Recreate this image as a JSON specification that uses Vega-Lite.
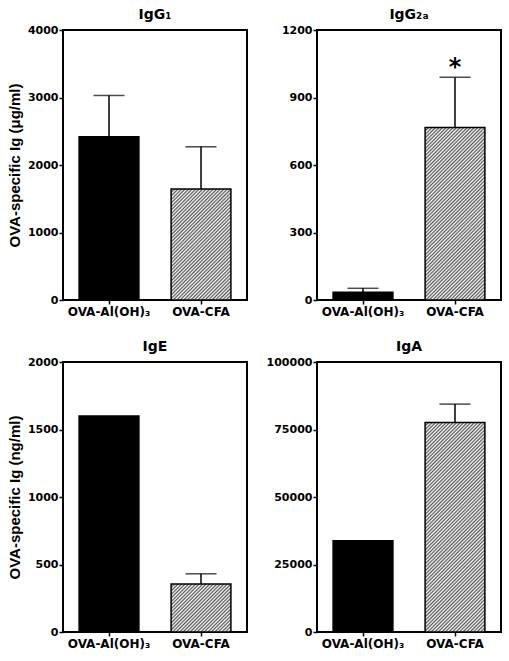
{
"$schema":"https://vega.github.io/schema/vega-lite/v6.json",
"padding":{"left":6,"top":7,"right":0,"bottom":0},
"background":"white",
"data":{"values":[
{"panel":"IgG1","group":"OVA-Al(OH)₃","mean":2420,"upper":3030},
{"panel":"IgG1","group":"OVA-CFA","mean":1645,"upper":2270},
{"panel":"IgG2a","group":"OVA-Al(OH)₃","mean":34,"upper":52},
{"panel":"IgG2a","group":"OVA-CFA","mean":767,"upper":990,"sig":"*"},
{"panel":"IgE","group":"OVA-Al(OH)₃","mean":1600,"upper":null},
{"panel":"IgE","group":"OVA-CFA","mean":356,"upper":431},
{"panel":"IgA","group":"OVA-Al(OH)₃","mean":33800,"upper":null},
{"panel":"IgA","group":"OVA-CFA","mean":77600,"upper":84400}
]},
"columns":2,
"bounds":"flush",
"spacing":{"row":62,"column":70},
"concat":[
{
"width":184,"height":270,
"title":"IgG₁",
"transform":[{"filter":"datum.panel === 'IgG1'"}],
"encoding":{
"x":{"field":"group","type":"nominal","title":null,"scale":{"domain":["OVA-Al(OH)₃","OVA-CFA"],"paddingInner":0.35,"paddingOuter":0.175}},
"y":{"field":"mean","type":"quantitative","title":"OVA-specific Ig (μg/ml)","scale":{"domain":[0,4000],"nice":false},"axis":{"values":[0,1000,2000,3000,4000],"format":"d"}}
},
"layer":[
{"transform":[{"filter":"datum.upper != null"}],"mark":{"type":"rule","color":"black","strokeWidth":1.5},"encoding":{"y2":{"field":"upper"}}},
{"transform":[{"filter":"datum.upper != null"}],"mark":{"type":"tick","color":"black","size":31,"thickness":1.5},"encoding":{"y":{"field":"upper","type":"quantitative","title":"OVA-specific Ig (μg/ml)","scale":{"domain":[0,4000],"nice":false},"axis":{"values":[0,1000,2000,3000,4000],"format":"d"}}}},
{"transform":[{"filter":"datum.group === 'OVA-CFA'"}],"mark":{"type":"bar","stroke":"black","strokeWidth":1.5,"fill":{"gradient":"linear","x1":0,"y1":0,"x2":1.0658,"y2":1.9717,"stops":[
{"offset":0,"color":"#555"},{"offset":0.00625,"color":"#fff"},{"offset":0.0125,"color":"#555"},{"offset":0.01875,"color":"#fff"},{"offset":0.025,"color":"#555"},{"offset":0.03125,"color":"#fff"},{"offset":0.0375,"color":"#555"},{"offset":0.04375,"color":"#fff"},{"offset":0.05,"color":"#555"},{"offset":0.05625,"color":"#fff"},{"offset":0.0625,"color":"#555"},{"offset":0.06875,"color":"#fff"},{"offset":0.075,"color":"#555"},{"offset":0.08125,"color":"#fff"},{"offset":0.0875,"color":"#555"},{"offset":0.09375,"color":"#fff"},
{"offset":0.1,"color":"#555"},{"offset":0.10625,"color":"#fff"},{"offset":0.1125,"color":"#555"},{"offset":0.11875,"color":"#fff"},{"offset":0.125,"color":"#555"},{"offset":0.13125,"color":"#fff"},{"offset":0.1375,"color":"#555"},{"offset":0.14375,"color":"#fff"},{"offset":0.15,"color":"#555"},{"offset":0.15625,"color":"#fff"},{"offset":0.1625,"color":"#555"},{"offset":0.16875,"color":"#fff"},{"offset":0.175,"color":"#555"},{"offset":0.18125,"color":"#fff"},{"offset":0.1875,"color":"#555"},{"offset":0.19375,"color":"#fff"},
{"offset":0.2,"color":"#555"},{"offset":0.20625,"color":"#fff"},{"offset":0.2125,"color":"#555"},{"offset":0.21875,"color":"#fff"},{"offset":0.225,"color":"#555"},{"offset":0.23125,"color":"#fff"},{"offset":0.2375,"color":"#555"},{"offset":0.24375,"color":"#fff"},{"offset":0.25,"color":"#555"},{"offset":0.25625,"color":"#fff"},{"offset":0.2625,"color":"#555"},{"offset":0.26875,"color":"#fff"},{"offset":0.275,"color":"#555"},{"offset":0.28125,"color":"#fff"},{"offset":0.2875,"color":"#555"},{"offset":0.29375,"color":"#fff"},
{"offset":0.3,"color":"#555"},{"offset":0.30625,"color":"#fff"},{"offset":0.3125,"color":"#555"},{"offset":0.31875,"color":"#fff"},{"offset":0.325,"color":"#555"},{"offset":0.33125,"color":"#fff"},{"offset":0.3375,"color":"#555"},{"offset":0.34375,"color":"#fff"},{"offset":0.35,"color":"#555"},{"offset":0.35625,"color":"#fff"},{"offset":0.3625,"color":"#555"},{"offset":0.36875,"color":"#fff"},{"offset":0.375,"color":"#555"},{"offset":0.38125,"color":"#fff"},{"offset":0.3875,"color":"#555"},{"offset":0.39375,"color":"#fff"},
{"offset":0.4,"color":"#555"},{"offset":0.40625,"color":"#fff"},{"offset":0.4125,"color":"#555"},{"offset":0.41875,"color":"#fff"},{"offset":0.425,"color":"#555"},{"offset":0.43125,"color":"#fff"},{"offset":0.4375,"color":"#555"},{"offset":0.44375,"color":"#fff"},{"offset":0.45,"color":"#555"},{"offset":0.45625,"color":"#fff"},{"offset":0.4625,"color":"#555"},{"offset":0.46875,"color":"#fff"},{"offset":0.475,"color":"#555"},{"offset":0.48125,"color":"#fff"},{"offset":0.4875,"color":"#555"},{"offset":0.49375,"color":"#fff"},
{"offset":0.5,"color":"#555"},{"offset":0.50625,"color":"#fff"},{"offset":0.5125,"color":"#555"},{"offset":0.51875,"color":"#fff"},{"offset":0.525,"color":"#555"},{"offset":0.53125,"color":"#fff"},{"offset":0.5375,"color":"#555"},{"offset":0.54375,"color":"#fff"},{"offset":0.55,"color":"#555"},{"offset":0.55625,"color":"#fff"},{"offset":0.5625,"color":"#555"},{"offset":0.56875,"color":"#fff"},{"offset":0.575,"color":"#555"},{"offset":0.58125,"color":"#fff"},{"offset":0.5875,"color":"#555"},{"offset":0.59375,"color":"#fff"},
{"offset":0.6,"color":"#555"},{"offset":0.60625,"color":"#fff"},{"offset":0.6125,"color":"#555"},{"offset":0.61875,"color":"#fff"},{"offset":0.625,"color":"#555"},{"offset":0.63125,"color":"#fff"}
]}},"encoding":{}},
{"transform":[{"filter":"datum.group !== 'OVA-CFA'"}],"mark":{"type":"bar","fill":"black","stroke":"black","strokeWidth":1.5},"encoding":{}}
]
},
{
"width":184,"height":270,
"title":"IgG₂ₐ",
"transform":[{"filter":"datum.panel === 'IgG2a'"}],
"encoding":{
"x":{"field":"group","type":"nominal","title":null,"scale":{"domain":["OVA-Al(OH)₃","OVA-CFA"],"paddingInner":0.35,"paddingOuter":0.175}},
"y":{"field":"mean","type":"quantitative","title":null,"scale":{"domain":[0,1200],"nice":false},"axis":{"values":[0,300,600,900,1200],"format":"d"}}
},
"layer":[
{"transform":[{"filter":"datum.upper != null"}],"mark":{"type":"rule","color":"black","strokeWidth":1.5},"encoding":{"y2":{"field":"upper"}}},
{"transform":[{"filter":"datum.upper != null"}],"mark":{"type":"tick","color":"black","size":31,"thickness":1.5},"encoding":{"y":{"field":"upper","type":"quantitative","title":null,"scale":{"domain":[0,1200],"nice":false},"axis":{"values":[0,300,600,900,1200],"format":"d"}}}},
{"transform":[{"filter":"datum.sig != null"}],"mark":{"type":"text","color":"black","fontSize":24,"fontWeight":"bold","font":"DejaVu Sans","baseline":"alphabetic","dy":-2},"encoding":{"y":{"field":"upper","type":"quantitative","title":null,"scale":{"domain":[0,1200],"nice":false},"axis":{"values":[0,300,600,900,1200],"format":"d"}},"text":{"field":"sig"}}},
{"transform":[{"filter":"datum.group === 'OVA-CFA'"}],"mark":{"type":"bar","stroke":"black","strokeWidth":1.5,"fill":{"gradient":"linear","x1":0,"y1":0,"x2":0.5082,"y2":1.4618,"stops":[
{"offset":0,"color":"#555"},{"offset":0.00625,"color":"#fff"},{"offset":0.0125,"color":"#555"},{"offset":0.01875,"color":"#fff"},{"offset":0.025,"color":"#555"},{"offset":0.03125,"color":"#fff"},{"offset":0.0375,"color":"#555"},{"offset":0.04375,"color":"#fff"},{"offset":0.05,"color":"#555"},{"offset":0.05625,"color":"#fff"},{"offset":0.0625,"color":"#555"},{"offset":0.06875,"color":"#fff"},{"offset":0.075,"color":"#555"},{"offset":0.08125,"color":"#fff"},{"offset":0.0875,"color":"#555"},{"offset":0.09375,"color":"#fff"},
{"offset":0.1,"color":"#555"},{"offset":0.10625,"color":"#fff"},{"offset":0.1125,"color":"#555"},{"offset":0.11875,"color":"#fff"},{"offset":0.125,"color":"#555"},{"offset":0.13125,"color":"#fff"},{"offset":0.1375,"color":"#555"},{"offset":0.14375,"color":"#fff"},{"offset":0.15,"color":"#555"},{"offset":0.15625,"color":"#fff"},{"offset":0.1625,"color":"#555"},{"offset":0.16875,"color":"#fff"},{"offset":0.175,"color":"#555"},{"offset":0.18125,"color":"#fff"},{"offset":0.1875,"color":"#555"},{"offset":0.19375,"color":"#fff"},
{"offset":0.2,"color":"#555"},{"offset":0.20625,"color":"#fff"},{"offset":0.2125,"color":"#555"},{"offset":0.21875,"color":"#fff"},{"offset":0.225,"color":"#555"},{"offset":0.23125,"color":"#fff"},{"offset":0.2375,"color":"#555"},{"offset":0.24375,"color":"#fff"},{"offset":0.25,"color":"#555"},{"offset":0.25625,"color":"#fff"},{"offset":0.2625,"color":"#555"},{"offset":0.26875,"color":"#fff"},{"offset":0.275,"color":"#555"},{"offset":0.28125,"color":"#fff"},{"offset":0.2875,"color":"#555"},{"offset":0.29375,"color":"#fff"},
{"offset":0.3,"color":"#555"},{"offset":0.30625,"color":"#fff"},{"offset":0.3125,"color":"#555"},{"offset":0.31875,"color":"#fff"},{"offset":0.325,"color":"#555"},{"offset":0.33125,"color":"#fff"},{"offset":0.3375,"color":"#555"},{"offset":0.34375,"color":"#fff"},{"offset":0.35,"color":"#555"},{"offset":0.35625,"color":"#fff"},{"offset":0.3625,"color":"#555"},{"offset":0.36875,"color":"#fff"},{"offset":0.375,"color":"#555"},{"offset":0.38125,"color":"#fff"},{"offset":0.3875,"color":"#555"},{"offset":0.39375,"color":"#fff"},
{"offset":0.4,"color":"#555"},{"offset":0.40625,"color":"#fff"},{"offset":0.4125,"color":"#555"},{"offset":0.41875,"color":"#fff"},{"offset":0.425,"color":"#555"},{"offset":0.43125,"color":"#fff"},{"offset":0.4375,"color":"#555"},{"offset":0.44375,"color":"#fff"},{"offset":0.45,"color":"#555"},{"offset":0.45625,"color":"#fff"},{"offset":0.4625,"color":"#555"},{"offset":0.46875,"color":"#fff"},{"offset":0.475,"color":"#555"},{"offset":0.48125,"color":"#fff"},{"offset":0.4875,"color":"#555"},{"offset":0.49375,"color":"#fff"},
{"offset":0.5,"color":"#555"},{"offset":0.50625,"color":"#fff"},{"offset":0.5125,"color":"#555"},{"offset":0.51875,"color":"#fff"},{"offset":0.525,"color":"#555"},{"offset":0.53125,"color":"#fff"},{"offset":0.5375,"color":"#555"},{"offset":0.54375,"color":"#fff"},{"offset":0.55,"color":"#555"},{"offset":0.55625,"color":"#fff"},{"offset":0.5625,"color":"#555"},{"offset":0.56875,"color":"#fff"},{"offset":0.575,"color":"#555"},{"offset":0.58125,"color":"#fff"},{"offset":0.5875,"color":"#555"},{"offset":0.59375,"color":"#fff"},
{"offset":0.6,"color":"#555"},{"offset":0.60625,"color":"#fff"},{"offset":0.6125,"color":"#555"},{"offset":0.61875,"color":"#fff"},{"offset":0.625,"color":"#555"},{"offset":0.63125,"color":"#fff"},{"offset":0.6375,"color":"#555"},{"offset":0.64375,"color":"#fff"},{"offset":0.65,"color":"#555"},{"offset":0.65625,"color":"#fff"},{"offset":0.6625,"color":"#555"},{"offset":0.66875,"color":"#fff"},{"offset":0.675,"color":"#555"},{"offset":0.68125,"color":"#fff"},{"offset":0.6875,"color":"#555"},{"offset":0.69375,"color":"#fff"},
{"offset":0.7,"color":"#555"},{"offset":0.70625,"color":"#fff"},{"offset":0.7125,"color":"#555"},{"offset":0.71875,"color":"#fff"},{"offset":0.725,"color":"#555"},{"offset":0.73125,"color":"#fff"},{"offset":0.7375,"color":"#555"},{"offset":0.74375,"color":"#fff"},{"offset":0.75,"color":"#555"},{"offset":0.75625,"color":"#fff"},{"offset":0.7625,"color":"#555"},{"offset":0.76875,"color":"#fff"},{"offset":0.775,"color":"#555"},{"offset":0.78125,"color":"#fff"},{"offset":0.7875,"color":"#555"},{"offset":0.79375,"color":"#fff"},
{"offset":0.8,"color":"#555"},{"offset":0.80625,"color":"#fff"},{"offset":0.8125,"color":"#555"},{"offset":0.81875,"color":"#fff"},{"offset":0.825,"color":"#555"},{"offset":0.83125,"color":"#fff"},{"offset":0.8375,"color":"#555"},{"offset":0.84375,"color":"#fff"}
]}},"encoding":{}},
{"transform":[{"filter":"datum.group !== 'OVA-CFA'"}],"mark":{"type":"bar","fill":"black","stroke":"black","strokeWidth":1.5},"encoding":{}}
]
},
{
"width":184,"height":270,
"title":"IgE",
"transform":[{"filter":"datum.panel === 'IgE'"}],
"encoding":{
"x":{"field":"group","type":"nominal","title":null,"scale":{"domain":["OVA-Al(OH)₃","OVA-CFA"],"paddingInner":0.35,"paddingOuter":0.175}},
"y":{"field":"mean","type":"quantitative","title":"OVA-specific Ig (ng/ml)","scale":{"domain":[0,2000],"nice":false},"axis":{"values":[0,500,1000,1500,2000],"format":"d"}}
},
"layer":[
{"transform":[{"filter":"datum.upper != null"}],"mark":{"type":"rule","color":"black","strokeWidth":1.5},"encoding":{"y2":{"field":"upper"}}},
{"transform":[{"filter":"datum.upper != null"}],"mark":{"type":"tick","color":"black","size":31,"thickness":1.5},"encoding":{"y":{"field":"upper","type":"quantitative","title":"OVA-specific Ig (ng/ml)","scale":{"domain":[0,2000],"nice":false},"axis":{"values":[0,500,1000,1500,2000],"format":"d"}}}},
{"transform":[{"filter":"datum.group === 'OVA-CFA'"}],"mark":{"type":"bar","stroke":"black","strokeWidth":1.5,"fill":{"gradient":"linear","x1":0,"y1":0,"x2":2.8711,"y2":2.2997,"stops":[
{"offset":0,"color":"#555"},{"offset":0.00625,"color":"#fff"},{"offset":0.0125,"color":"#555"},{"offset":0.01875,"color":"#fff"},{"offset":0.025,"color":"#555"},{"offset":0.03125,"color":"#fff"},{"offset":0.0375,"color":"#555"},{"offset":0.04375,"color":"#fff"},{"offset":0.05,"color":"#555"},{"offset":0.05625,"color":"#fff"},{"offset":0.0625,"color":"#555"},{"offset":0.06875,"color":"#fff"},{"offset":0.075,"color":"#555"},{"offset":0.08125,"color":"#fff"},{"offset":0.0875,"color":"#555"},{"offset":0.09375,"color":"#fff"},
{"offset":0.1,"color":"#555"},{"offset":0.10625,"color":"#fff"},{"offset":0.1125,"color":"#555"},{"offset":0.11875,"color":"#fff"},{"offset":0.125,"color":"#555"},{"offset":0.13125,"color":"#fff"},{"offset":0.1375,"color":"#555"},{"offset":0.14375,"color":"#fff"},{"offset":0.15,"color":"#555"},{"offset":0.15625,"color":"#fff"},{"offset":0.1625,"color":"#555"},{"offset":0.16875,"color":"#fff"},{"offset":0.175,"color":"#555"},{"offset":0.18125,"color":"#fff"},{"offset":0.1875,"color":"#555"},{"offset":0.19375,"color":"#fff"},
{"offset":0.2,"color":"#555"},{"offset":0.20625,"color":"#fff"},{"offset":0.2125,"color":"#555"},{"offset":0.21875,"color":"#fff"},{"offset":0.225,"color":"#555"},{"offset":0.23125,"color":"#fff"},{"offset":0.2375,"color":"#555"},{"offset":0.24375,"color":"#fff"},{"offset":0.25,"color":"#555"},{"offset":0.25625,"color":"#fff"},{"offset":0.2625,"color":"#555"},{"offset":0.26875,"color":"#fff"},{"offset":0.275,"color":"#555"},{"offset":0.28125,"color":"#fff"},{"offset":0.2875,"color":"#555"},{"offset":0.29375,"color":"#fff"},
{"offset":0.3,"color":"#555"},{"offset":0.30625,"color":"#fff"},{"offset":0.3125,"color":"#555"},{"offset":0.31875,"color":"#fff"},{"offset":0.325,"color":"#555"},{"offset":0.33125,"color":"#fff"},{"offset":0.3375,"color":"#555"},{"offset":0.34375,"color":"#fff"},{"offset":0.35,"color":"#555"},{"offset":0.35625,"color":"#fff"},{"offset":0.3625,"color":"#555"},{"offset":0.36875,"color":"#fff"},{"offset":0.375,"color":"#555"},{"offset":0.38125,"color":"#fff"},{"offset":0.3875,"color":"#555"},{"offset":0.39375,"color":"#fff"},
{"offset":0.4,"color":"#555"},{"offset":0.40625,"color":"#fff"}
]}},"encoding":{}},
{"transform":[{"filter":"datum.group !== 'OVA-CFA'"}],"mark":{"type":"bar","fill":"black","stroke":"black","strokeWidth":1.5},"encoding":{}}
]
},
{
"width":184,"height":270,
"title":"IgA",
"transform":[{"filter":"datum.panel === 'IgA'"}],
"encoding":{
"x":{"field":"group","type":"nominal","title":null,"scale":{"domain":["OVA-Al(OH)₃","OVA-CFA"],"paddingInner":0.35,"paddingOuter":0.175}},
"y":{"field":"mean","type":"quantitative","title":null,"scale":{"domain":[0,100000],"nice":false},"axis":{"values":[0,25000,50000,75000,100000],"format":"d"}}
},
"layer":[
{"transform":[{"filter":"datum.upper != null"}],"mark":{"type":"rule","color":"black","strokeWidth":1.5},"encoding":{"y2":{"field":"upper"}}},
{"transform":[{"filter":"datum.upper != null"}],"mark":{"type":"tick","color":"black","size":31,"thickness":1.5},"encoding":{"y":{"field":"upper","type":"quantitative","title":null,"scale":{"domain":[0,100000],"nice":false},"axis":{"values":[0,25000,50000,75000,100000],"format":"d"}}}},
{"transform":[{"filter":"datum.group === 'OVA-CFA'"}],"mark":{"type":"bar","stroke":"black","strokeWidth":1.5,"fill":{"gradient":"linear","x1":0,"y1":0,"x2":0.3573,"y2":1.2476,"stops":[
{"offset":0,"color":"#555"},{"offset":0.00625,"color":"#fff"},{"offset":0.0125,"color":"#555"},{"offset":0.01875,"color":"#fff"},{"offset":0.025,"color":"#555"},{"offset":0.03125,"color":"#fff"},{"offset":0.0375,"color":"#555"},{"offset":0.04375,"color":"#fff"},{"offset":0.05,"color":"#555"},{"offset":0.05625,"color":"#fff"},{"offset":0.0625,"color":"#555"},{"offset":0.06875,"color":"#fff"},{"offset":0.075,"color":"#555"},{"offset":0.08125,"color":"#fff"},{"offset":0.0875,"color":"#555"},{"offset":0.09375,"color":"#fff"},
{"offset":0.1,"color":"#555"},{"offset":0.10625,"color":"#fff"},{"offset":0.1125,"color":"#555"},{"offset":0.11875,"color":"#fff"},{"offset":0.125,"color":"#555"},{"offset":0.13125,"color":"#fff"},{"offset":0.1375,"color":"#555"},{"offset":0.14375,"color":"#fff"},{"offset":0.15,"color":"#555"},{"offset":0.15625,"color":"#fff"},{"offset":0.1625,"color":"#555"},{"offset":0.16875,"color":"#fff"},{"offset":0.175,"color":"#555"},{"offset":0.18125,"color":"#fff"},{"offset":0.1875,"color":"#555"},{"offset":0.19375,"color":"#fff"},
{"offset":0.2,"color":"#555"},{"offset":0.20625,"color":"#fff"},{"offset":0.2125,"color":"#555"},{"offset":0.21875,"color":"#fff"},{"offset":0.225,"color":"#555"},{"offset":0.23125,"color":"#fff"},{"offset":0.2375,"color":"#555"},{"offset":0.24375,"color":"#fff"},{"offset":0.25,"color":"#555"},{"offset":0.25625,"color":"#fff"},{"offset":0.2625,"color":"#555"},{"offset":0.26875,"color":"#fff"},{"offset":0.275,"color":"#555"},{"offset":0.28125,"color":"#fff"},{"offset":0.2875,"color":"#555"},{"offset":0.29375,"color":"#fff"},
{"offset":0.3,"color":"#555"},{"offset":0.30625,"color":"#fff"},{"offset":0.3125,"color":"#555"},{"offset":0.31875,"color":"#fff"},{"offset":0.325,"color":"#555"},{"offset":0.33125,"color":"#fff"},{"offset":0.3375,"color":"#555"},{"offset":0.34375,"color":"#fff"},{"offset":0.35,"color":"#555"},{"offset":0.35625,"color":"#fff"},{"offset":0.3625,"color":"#555"},{"offset":0.36875,"color":"#fff"},{"offset":0.375,"color":"#555"},{"offset":0.38125,"color":"#fff"},{"offset":0.3875,"color":"#555"},{"offset":0.39375,"color":"#fff"},
{"offset":0.4,"color":"#555"},{"offset":0.40625,"color":"#fff"},{"offset":0.4125,"color":"#555"},{"offset":0.41875,"color":"#fff"},{"offset":0.425,"color":"#555"},{"offset":0.43125,"color":"#fff"},{"offset":0.4375,"color":"#555"},{"offset":0.44375,"color":"#fff"},{"offset":0.45,"color":"#555"},{"offset":0.45625,"color":"#fff"},{"offset":0.4625,"color":"#555"},{"offset":0.46875,"color":"#fff"},{"offset":0.475,"color":"#555"},{"offset":0.48125,"color":"#fff"},{"offset":0.4875,"color":"#555"},{"offset":0.49375,"color":"#fff"},
{"offset":0.5,"color":"#555"},{"offset":0.50625,"color":"#fff"},{"offset":0.5125,"color":"#555"},{"offset":0.51875,"color":"#fff"},{"offset":0.525,"color":"#555"},{"offset":0.53125,"color":"#fff"},{"offset":0.5375,"color":"#555"},{"offset":0.54375,"color":"#fff"},{"offset":0.55,"color":"#555"},{"offset":0.55625,"color":"#fff"},{"offset":0.5625,"color":"#555"},{"offset":0.56875,"color":"#fff"},{"offset":0.575,"color":"#555"},{"offset":0.58125,"color":"#fff"},{"offset":0.5875,"color":"#555"},{"offset":0.59375,"color":"#fff"},
{"offset":0.6,"color":"#555"},{"offset":0.60625,"color":"#fff"},{"offset":0.6125,"color":"#555"},{"offset":0.61875,"color":"#fff"},{"offset":0.625,"color":"#555"},{"offset":0.63125,"color":"#fff"},{"offset":0.6375,"color":"#555"},{"offset":0.64375,"color":"#fff"},{"offset":0.65,"color":"#555"},{"offset":0.65625,"color":"#fff"},{"offset":0.6625,"color":"#555"},{"offset":0.66875,"color":"#fff"},{"offset":0.675,"color":"#555"},{"offset":0.68125,"color":"#fff"},{"offset":0.6875,"color":"#555"},{"offset":0.69375,"color":"#fff"},
{"offset":0.7,"color":"#555"},{"offset":0.70625,"color":"#fff"},{"offset":0.7125,"color":"#555"},{"offset":0.71875,"color":"#fff"},{"offset":0.725,"color":"#555"},{"offset":0.73125,"color":"#fff"},{"offset":0.7375,"color":"#555"},{"offset":0.74375,"color":"#fff"},{"offset":0.75,"color":"#555"},{"offset":0.75625,"color":"#fff"},{"offset":0.7625,"color":"#555"},{"offset":0.76875,"color":"#fff"},{"offset":0.775,"color":"#555"},{"offset":0.78125,"color":"#fff"},{"offset":0.7875,"color":"#555"},{"offset":0.79375,"color":"#fff"},
{"offset":0.8,"color":"#555"},{"offset":0.80625,"color":"#fff"},{"offset":0.8125,"color":"#555"},{"offset":0.81875,"color":"#fff"},{"offset":0.825,"color":"#555"},{"offset":0.83125,"color":"#fff"},{"offset":0.8375,"color":"#555"},{"offset":0.84375,"color":"#fff"},{"offset":0.85,"color":"#555"},{"offset":0.85625,"color":"#fff"},{"offset":0.8625,"color":"#555"},{"offset":0.86875,"color":"#fff"},{"offset":0.875,"color":"#555"},{"offset":0.88125,"color":"#fff"},{"offset":0.8875,"color":"#555"},{"offset":0.89375,"color":"#fff"},
{"offset":0.9,"color":"#555"},{"offset":0.90625,"color":"#fff"},{"offset":0.9125,"color":"#555"},{"offset":0.91875,"color":"#fff"},{"offset":0.925,"color":"#555"},{"offset":0.93125,"color":"#fff"},{"offset":0.9375,"color":"#555"},{"offset":0.94375,"color":"#fff"},{"offset":0.95,"color":"#555"},{"offset":0.95625,"color":"#fff"},{"offset":0.9625,"color":"#555"},{"offset":0.96875,"color":"#fff"},{"offset":0.975,"color":"#555"},{"offset":0.98125,"color":"#fff"},{"offset":0.9875,"color":"#555"},{"offset":0.99375,"color":"#fff"}
]}},"encoding":{}},
{"transform":[{"filter":"datum.group !== 'OVA-CFA'"}],"mark":{"type":"bar","fill":"black","stroke":"black","strokeWidth":1.5},"encoding":{}}
]
}
],
"config":{
"view":{"stroke":"black","strokeWidth":2},
"font":"DejaVu Sans",
"title":{"font":"DejaVu Sans","fontSize":14,"fontWeight":"bold","color":"black","offset":2},
"axis":{"domain":false,"grid":false,"labelFont":"DejaVu Sans","labelFontWeight":"bold","labelColor":"black","tickColor":"black","tickWidth":1.5,"tickSize":4,"titleFont":"Liberation Sans","titleFontWeight":"bold","titleColor":"black","titleFontSize":15},
"axisY":{"labelFontSize":11,"labelPadding":1,"titlePadding":5},
"axisX":{"labelFontSize":12,"labelAngle":0,"labelPadding":2}
}
}
